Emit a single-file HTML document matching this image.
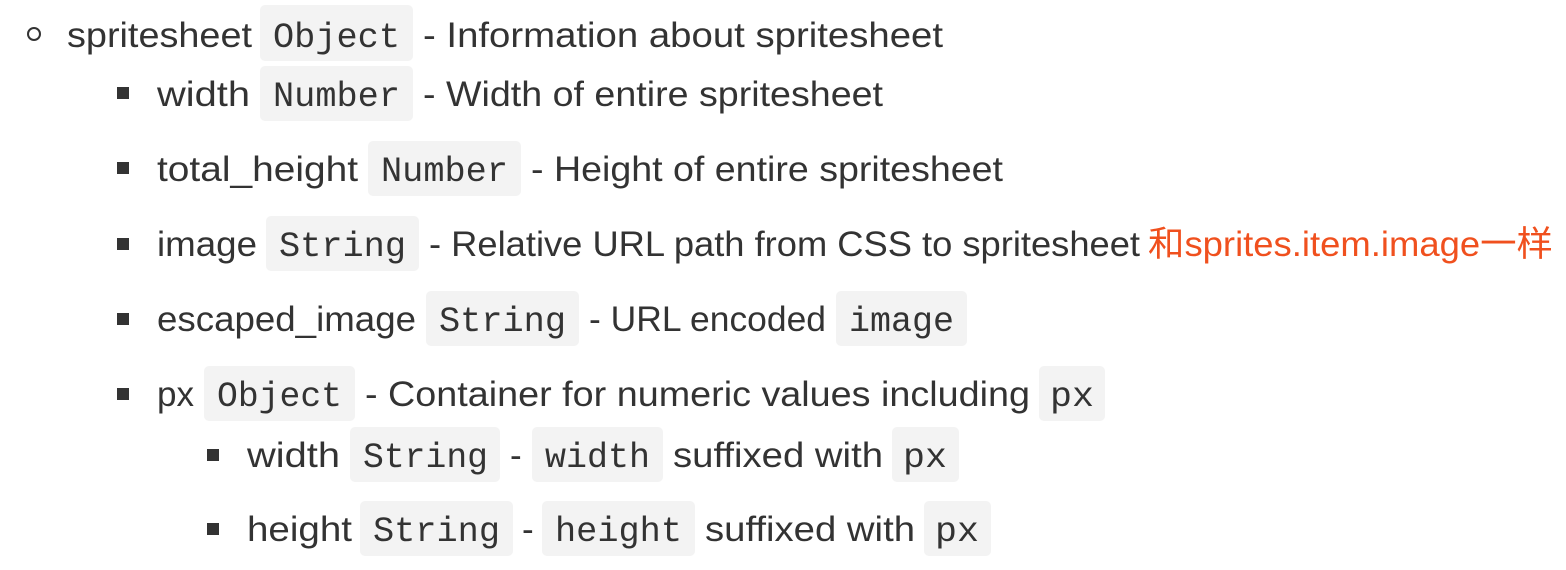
<!DOCTYPE html>
<html><head><meta charset="utf-8"><style>
html,body{margin:0;padding:0;background:#fff;width:1566px;height:570px;overflow:hidden}
svg{display:block}
.t{font-family:"Liberation Sans","Noto Sans CJK SC",sans-serif;font-size:35px;fill:#333}
.c{font-family:"Liberation Mono",monospace;font-size:35px;fill:#333}
.r{font-family:"Liberation Sans","Noto Sans CJK SC",sans-serif;font-size:35px;fill:#f0501e}
rect.b{fill:#f3f3f3}
</style></head><body>
<svg width="1566" height="570" xmlns="http://www.w3.org/2000/svg">
<circle cx="34" cy="34" r="6" fill="none" stroke="#333" stroke-width="2"/>
<rect x="117" y="87" width="12" height="12" fill="#333"/>
<rect x="117" y="162" width="12" height="12" fill="#333"/>
<rect x="117" y="238" width="12" height="12" fill="#333"/>
<rect x="117" y="313" width="12" height="12" fill="#333"/>
<rect x="117" y="388" width="12" height="12" fill="#333"/>
<rect x="207" y="449" width="12" height="12" fill="#333"/>
<rect x="207" y="523" width="12" height="12" fill="#333"/>

<rect class="b" x="260" y="5" width="153" height="56" rx="5"/>
<rect class="b" x="260" y="66" width="153" height="55" rx="5"/>
<rect class="b" x="368" y="141" width="153" height="55" rx="5"/>
<rect class="b" x="266" y="216" width="153" height="55" rx="5"/>
<rect class="b" x="426" y="291" width="153" height="55" rx="5"/>
<rect class="b" x="836" y="291" width="131" height="55" rx="5"/>
<rect class="b" x="204" y="366" width="151" height="55" rx="5"/>
<rect class="b" x="1039" y="366" width="66" height="55" rx="5"/>
<rect class="b" x="350" y="427" width="150" height="55" rx="5"/>
<rect class="b" x="532" y="427" width="131" height="55" rx="5"/>
<rect class="b" x="892" y="427" width="67" height="55" rx="5"/>
<rect class="b" x="360" y="501" width="153" height="55" rx="5"/>
<rect class="b" x="542" y="501" width="153" height="55" rx="5"/>
<rect class="b" x="924" y="501" width="67" height="55" rx="5"/>

<text class="t" x="67" y="47" textLength="185" lengthAdjust="spacingAndGlyphs">spritesheet</text>
<text class="c" x="273" y="47" textLength="127" lengthAdjust="spacingAndGlyphs">Object</text>
<text class="t" x="423" y="47" textLength="520" lengthAdjust="spacingAndGlyphs">- Information about spritesheet</text>

<text class="t" x="157" y="106" textLength="93" lengthAdjust="spacingAndGlyphs">width</text>
<text class="c" x="273" y="106" textLength="127" lengthAdjust="spacingAndGlyphs">Number</text>
<text class="t" x="423" y="106" textLength="460" lengthAdjust="spacingAndGlyphs">- Width of entire spritesheet</text>

<text class="t" x="157" y="181" textLength="201" lengthAdjust="spacingAndGlyphs">total_height</text>
<text class="c" x="381" y="181" textLength="127" lengthAdjust="spacingAndGlyphs">Number</text>
<text class="t" x="531" y="181" textLength="472" lengthAdjust="spacingAndGlyphs">- Height of entire spritesheet</text>

<text class="t" x="157" y="256" textLength="100" lengthAdjust="spacingAndGlyphs">image</text>
<text class="c" x="279" y="256" textLength="127" lengthAdjust="spacingAndGlyphs">String</text>
<text class="t" x="429" y="256" textLength="711" lengthAdjust="spacingAndGlyphs">- Relative URL path from CSS to spritesheet</text>
<text class="r" x="1148" y="256" textLength="405" lengthAdjust="spacingAndGlyphs">和sprites.item.image一样</text>

<text class="t" x="157" y="331" textLength="259" lengthAdjust="spacingAndGlyphs">escaped_image</text>
<text class="c" x="439" y="331" textLength="127" lengthAdjust="spacingAndGlyphs">String</text>
<text class="t" x="589" y="331" textLength="237" lengthAdjust="spacingAndGlyphs">- URL encoded</text>
<text class="c" x="849" y="331" textLength="105" lengthAdjust="spacingAndGlyphs">image</text>

<text class="t" x="157" y="406" textLength="37" lengthAdjust="spacingAndGlyphs">px</text>
<text class="c" x="217" y="406" textLength="125" lengthAdjust="spacingAndGlyphs">Object</text>
<text class="t" x="365" y="406" textLength="665" lengthAdjust="spacingAndGlyphs">- Container for numeric values including</text>
<text class="c" x="1050" y="406" textLength="44" lengthAdjust="spacingAndGlyphs">px</text>

<text class="t" x="247" y="467" textLength="93" lengthAdjust="spacingAndGlyphs">width</text>
<text class="c" x="363" y="467" textLength="125" lengthAdjust="spacingAndGlyphs">String</text>
<text class="t" x="510" y="467">-</text>
<text class="c" x="545" y="467" textLength="105" lengthAdjust="spacingAndGlyphs">width</text>
<text class="t" x="673" y="467" textLength="210" lengthAdjust="spacingAndGlyphs">suffixed with</text>
<text class="c" x="903" y="467" textLength="44" lengthAdjust="spacingAndGlyphs">px</text>

<text class="t" x="247" y="541" textLength="105" lengthAdjust="spacingAndGlyphs">height</text>
<text class="c" x="373" y="541" textLength="127" lengthAdjust="spacingAndGlyphs">String</text>
<text class="t" x="522" y="541">-</text>
<text class="c" x="555" y="541" textLength="127" lengthAdjust="spacingAndGlyphs">height</text>
<text class="t" x="705" y="541" textLength="210" lengthAdjust="spacingAndGlyphs">suffixed with</text>
<text class="c" x="935" y="541" textLength="44" lengthAdjust="spacingAndGlyphs">px</text>
</svg>
</body></html>
